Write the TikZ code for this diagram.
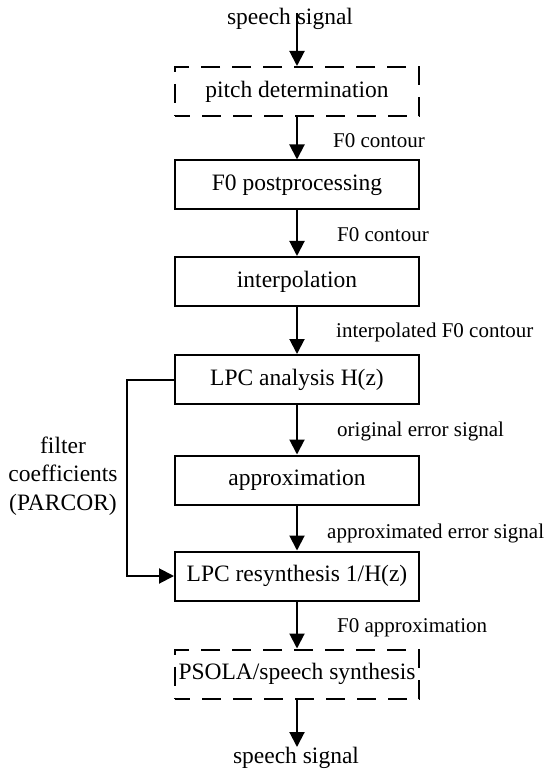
\documentclass[tikz,border=0pt]{standalone}
\usepackage{fontspec}
\setmainfont{Liberation Serif}
\usetikzlibrary{arrows.meta}
\begin{document}
\begin{tikzpicture}[x=1pt,y=-1pt,
  box/.style={draw, line width=2pt, minimum width=244pt, minimum height=49pt, inner sep=0pt, font=\fontsize{23.5}{28}\selectfont},
  dbox/.style={box, dash pattern=on 19pt off 12pt, dash phase=4pt},
  lbl/.style={anchor=west, inner sep=0pt, font=\fontsize{21}{25}\selectfont},
  txt/.style={inner sep=0pt, font=\fontsize{23.5}{28}\selectfont},
  flow/.style={line width=2pt, -{Triangle[width=15pt,length=15pt]}}]
\useasboundingbox (0,0) rectangle (545,775);
\node[txt] (in) at (290,19) {speech signal};
\coordinate (inS) at (297,13);
\node[dbox] (pd) at (297,91.5) {pitch determination};
\node[box] (pp) at (297,185) {F0 postprocessing};
\node[box] (ip) at (297,281.5) {interpolation};
\node[box] (lpc) at (297,379.5) {LPC analysis H(z)};
\node[box] (ap) at (297,480) {approximation};
\node[box] (rs) at (297,576) {LPC resynthesis 1/H(z)};
\node[dbox] (ps) at (297,674) {PSOLA/speech synthesis};
\node[txt, anchor=north] (out) at (296,747) {speech signal};
\draw[flow] (inS) -- (pd.north);
\draw[flow] (pd) -- (pp);
\draw[flow] (pp) -- (ip);
\draw[flow] (ip) -- (lpc);
\draw[flow] (lpc) -- (ap);
\draw[flow] (ap) -- (rs);
\draw[flow] (rs) -- (ps);
\draw[flow] (ps.south) -- (ps.south |- out.north);
\coordinate (fbT) at (127,379.5);
\coordinate (fbB) at (127,576);
\draw[flow] (lpc.west) -- (fbT) -- (fbB) -- (rs.west);
\node[lbl] (l1) at (333,141) {F0 contour};
\node[lbl] (l2) at (337,235) {F0 contour};
\node[lbl] (l3) at (336,332) {interpolated F0 contour};
\node[lbl] (l4) at (337,431) {original error signal};
\node[lbl] (l5) at (327,533) {approximated error signal};
\node[lbl] (l6) at (337,628) {F0 approximation};
\node[txt, align=center, font=\fontsize{23.5}{28.5}\selectfont] (fc) at (63,476) {filter\\coefficients\\(PARCOR)};
\end{tikzpicture}
\end{document}
